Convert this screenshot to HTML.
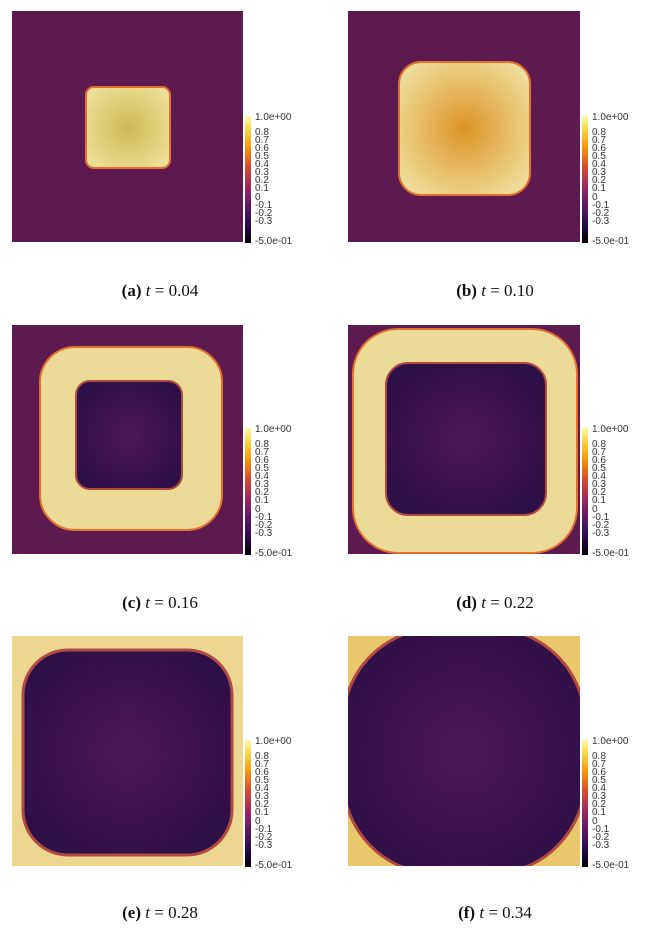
<!DOCTYPE html>
<html><head><style>
body{margin:0;background:#fff;width:669px;height:935px;overflow:hidden;position:relative;font-family:"Liberation Serif",serif}
.cap{position:absolute;font-size:17px;color:#111;text-align:center;width:240px}
svg{position:absolute;left:0;top:0}
</style></head><body>
<svg width="669" height="935" xmlns="http://www.w3.org/2000/svg" font-family="Liberation Sans, sans-serif">
<defs>
<linearGradient id="cb" x1="0" y1="0" x2="0" y2="1">
<stop offset="0" stop-color="#fcfba4"/><stop offset="0.12" stop-color="#f7d03c"/>
<stop offset="0.25" stop-color="#f8950a"/><stop offset="0.4" stop-color="#db4a30"/>
<stop offset="0.55" stop-color="#a02a5a"/><stop offset="0.68" stop-color="#6a1a6a"/>
<stop offset="0.85" stop-color="#2a0c50"/><stop offset="1" stop-color="#000004"/>
</linearGradient>
<radialGradient id="ya" cx="0.5" cy="0.5" r="0.6"><stop offset="0" stop-color="#cdb955"/><stop offset="1" stop-color="#ecdf95"/></radialGradient>
<radialGradient id="yb" cx="0.5" cy="0.5" r="0.6"><stop offset="0" stop-color="#dd9225"/><stop offset="0.5" stop-color="#e6b860"/><stop offset="1" stop-color="#eedc98"/></radialGradient>
<radialGradient id="dk" cx="0.5" cy="0.5" r="0.6"><stop offset="0" stop-color="#4c1658"/><stop offset="1" stop-color="#2e0f48"/></radialGradient>
<clipPath id="cf"><rect x="348" y="636" width="232" height="230"/></clipPath>
<g id="bar">
<rect x="0" y="0" width="6" height="127" fill="url(#cb)"/>
<g font-size="10" fill="#333">
<text x="10" y="4">1.0e+00</text><text x="10" y="19">0.8</text><text x="10" y="27">0.7</text><text x="10" y="35">0.6</text><text x="10" y="43">0.5</text><text x="10" y="51">0.4</text><text x="10" y="59">0.3</text><text x="10" y="67">0.2</text><text x="10" y="75">0.1</text><text x="10" y="84">0</text><text x="10" y="92">-0.1</text><text x="10" y="100">-0.2</text><text x="10" y="108">-0.3</text><text x="10" y="128">-5.0e-01</text>
</g></g>
</defs>
<!-- a -->
<rect x="12" y="11" width="231" height="231" fill="#5c1a4e"/>
<rect x="86" y="87" width="84" height="81" rx="8" fill="url(#ya)" stroke="#e07030" stroke-width="2"/>
<use href="#bar" x="245" y="116"/>
<!-- b -->
<rect x="348" y="11" width="232" height="231" fill="#5c1a4e"/>
<rect x="399" y="62" width="131" height="133" rx="22" fill="url(#yb)" stroke="#e07030" stroke-width="2"/>
<use href="#bar" x="582" y="116"/>
<!-- c -->
<rect x="12" y="325" width="231" height="229" fill="#5c1a4e"/>
<rect x="40" y="347" width="182" height="183" rx="35" fill="#ecdb96" stroke="#e07030" stroke-width="2"/>
<rect x="76" y="381" width="106" height="108" rx="14" fill="url(#dk)" stroke="#b04a40" stroke-width="2"/>
<use href="#bar" x="245" y="428"/>
<!-- d -->
<rect x="348" y="325" width="232" height="229" fill="#5c1a4e"/>
<rect x="353" y="329" width="224" height="224" rx="45" fill="#ecdb96" stroke="#e07030" stroke-width="2"/>
<rect x="386" y="363" width="160" height="152" rx="22" fill="url(#dk)" stroke="#b04a40" stroke-width="2"/>
<use href="#bar" x="582" y="428"/>
<!-- e -->
<rect x="12" y="636" width="231" height="230" fill="#ecd690"/>
<rect x="23" y="650" width="209" height="205" rx="45" fill="url(#dk)" stroke="#b04a40" stroke-width="3"/>
<use href="#bar" x="245" y="740"/>
<!-- f -->
<rect x="348" y="636" width="232" height="230" fill="#eac76a"/>
<g clip-path="url(#cf)">
<rect x="343" y="628" width="242" height="246" rx="95" fill="url(#dk)" stroke="#b04a40" stroke-width="3"/>
</g>
<use href="#bar" x="582" y="740"/>
</svg>
<div class="cap" style="left:40px;top:281px"><b>(a)</b> <i>t</i> = 0.04</div>
<div class="cap" style="left:375px;top:281px"><b>(b)</b> <i>t</i> = 0.10</div>
<div class="cap" style="left:40px;top:593px"><b>(c)</b> <i>t</i> = 0.16</div>
<div class="cap" style="left:375px;top:593px"><b>(d)</b> <i>t</i> = 0.22</div>
<div class="cap" style="left:40px;top:903px"><b>(e)</b> <i>t</i> = 0.28</div>
<div class="cap" style="left:375px;top:903px"><b>(f)</b> <i>t</i> = 0.34</div>
</body></html>
